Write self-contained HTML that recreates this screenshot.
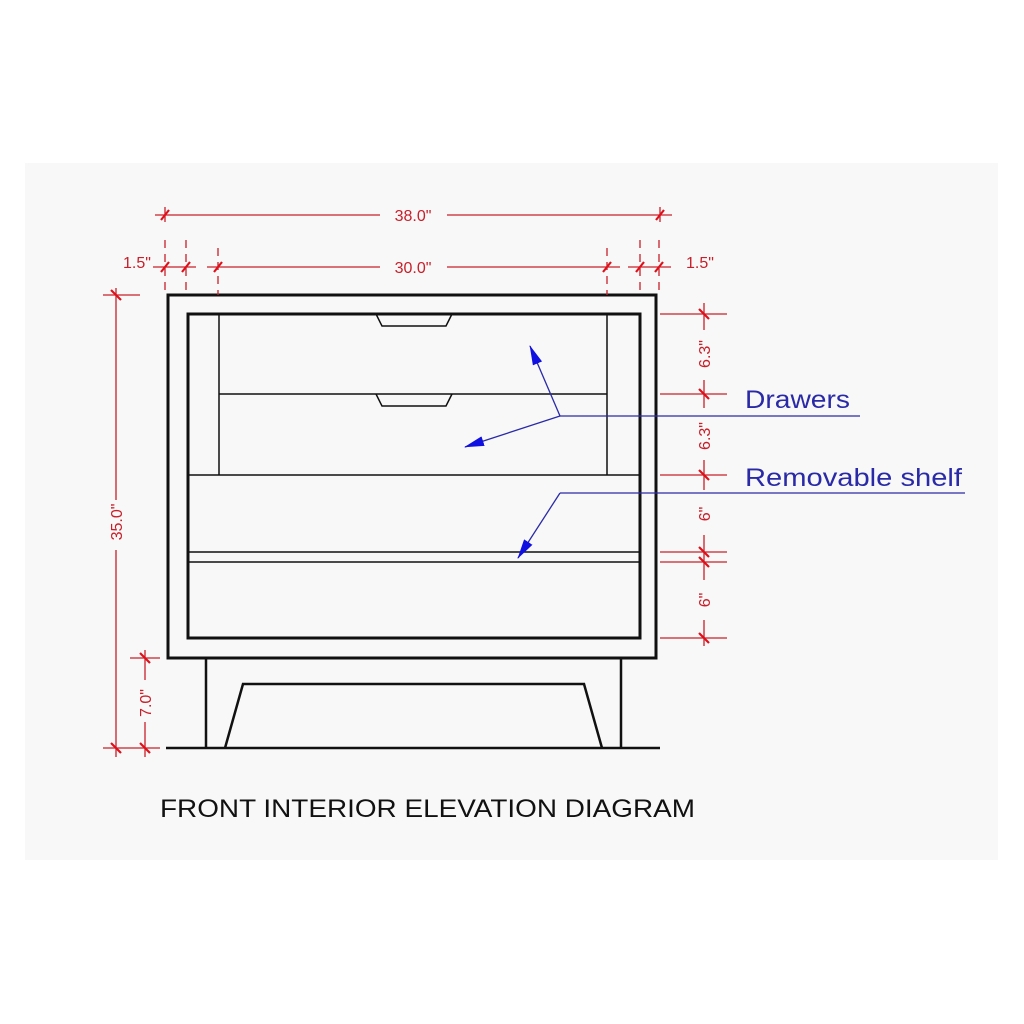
<!DOCTYPE html>
<html><head><style>
html,body{margin:0;padding:0;background:#fff;}
svg{display:block;}
</style></head><body>
<svg width="1024" height="1024" viewBox="0 0 1024 1024" xmlns="http://www.w3.org/2000/svg" font-family="Liberation Sans, sans-serif">
<rect x="0" y="0" width="1024" height="1024" fill="#fff"/>
<rect x="25" y="163" width="973" height="697" fill="#f8f8f8"/>
<defs>
<marker id="ah" markerWidth="20" markerHeight="10" refX="19" refY="5" orient="auto" markerUnits="userSpaceOnUse"><path d="M0,0 L20,5 L0,10 z" fill="#1010e0"/></marker>
</defs>
<g stroke="#111" fill="none">
<rect x="168" y="295" width="488" height="363" stroke-width="3"/>
<rect x="188" y="314" width="452" height="324" stroke-width="3"/>
<line x1="219" y1="314" x2="219" y2="475" stroke-width="1.5"/>
<line x1="607" y1="314" x2="607" y2="475" stroke-width="1.5"/>
<line x1="219" y1="394" x2="607" y2="394" stroke-width="1.5"/>
<line x1="188" y1="475" x2="640" y2="475" stroke-width="1.5"/>
<line x1="188" y1="552" x2="640" y2="552" stroke-width="1.5"/>
<line x1="188" y1="562" x2="640" y2="562" stroke-width="1.5"/>
<path d="M376,314 L382,326 L446,326 L452,314" stroke-width="1.5"/>
<path d="M376,394 L382,406 L446,406 L452,394" stroke-width="1.5"/>
<line x1="206" y1="658" x2="206" y2="748" stroke-width="2.5"/>
<line x1="621" y1="658" x2="621" y2="748" stroke-width="2.5"/>
<path d="M225,748 L243,684 L584,684 L602,748" stroke-width="2.5"/>
<line x1="166" y1="748" x2="660" y2="748" stroke-width="2.5"/>
</g>
<g stroke="#c8202a" stroke-width="1.3" fill="none">
<line x1="155" y1="215" x2="380" y2="215"/><line x1="447" y1="215" x2="672" y2="215"/>
<line x1="165" y1="207" x2="165" y2="222"/><line x1="660" y1="207" x2="660" y2="222"/>
<line x1="153" y1="267" x2="196" y2="267"/><line x1="207" y1="267" x2="380" y2="267"/><line x1="447" y1="267" x2="620" y2="267"/><line x1="628" y1="267" x2="671" y2="267"/>
<line x1="165" y1="240" x2="165" y2="295" stroke-dasharray="8,6"/><line x1="186" y1="240" x2="186" y2="295" stroke-dasharray="8,6"/><line x1="218" y1="248" x2="218" y2="295" stroke-dasharray="8,6"/>
<line x1="607" y1="248" x2="607" y2="295" stroke-dasharray="8,6"/><line x1="640" y1="240" x2="640" y2="295" stroke-dasharray="8,6"/><line x1="659" y1="240" x2="659" y2="295" stroke-dasharray="8,6"/>
<line x1="116" y1="288" x2="116" y2="500"/><line x1="116" y1="550" x2="116" y2="757"/>
<line x1="103" y1="295" x2="140" y2="295"/><line x1="103" y1="748" x2="160" y2="748"/>
<line x1="145" y1="650" x2="145" y2="680"/><line x1="145" y1="722" x2="145" y2="757"/>
<line x1="130" y1="658" x2="160" y2="658"/>
<line x1="704" y1="303" x2="704" y2="330"/><line x1="704" y1="380" x2="704" y2="408"/><line x1="704" y1="460" x2="704" y2="490"/><line x1="704" y1="535" x2="704" y2="580"/><line x1="704" y1="620" x2="704" y2="646"/>
<line x1="660" y1="314" x2="727" y2="314"/><line x1="660" y1="394" x2="727" y2="394"/><line x1="660" y1="475" x2="727" y2="475"/><line x1="660" y1="552" x2="727" y2="552"/><line x1="660" y1="562" x2="727" y2="562"/><line x1="660" y1="638" x2="727" y2="638"/>
</g>
<g stroke="#e0101a" stroke-width="2.2">
<line x1="161" y1="220" x2="169" y2="210"/><line x1="656" y1="220" x2="664" y2="210"/>
<line x1="161" y1="272" x2="169" y2="262"/><line x1="182" y1="272" x2="190" y2="262"/><line x1="214" y1="272" x2="222" y2="262"/><line x1="603" y1="272" x2="611" y2="262"/><line x1="636" y1="272" x2="644" y2="262"/><line x1="655" y1="272" x2="663" y2="262"/>
<line x1="111" y1="290" x2="121" y2="300"/><line x1="111" y1="743" x2="121" y2="753"/>
<line x1="140" y1="653" x2="150" y2="663"/><line x1="140" y1="743" x2="150" y2="753"/>
<line x1="699" y1="309" x2="709" y2="319"/><line x1="699" y1="389" x2="709" y2="399"/><line x1="699" y1="470" x2="709" y2="480"/><line x1="699" y1="547" x2="709" y2="557"/><line x1="699" y1="557" x2="709" y2="567"/><line x1="699" y1="633" x2="709" y2="643"/>
</g>
<g fill="#c8202a" font-size="16">
<text x="413" y="221" text-anchor="middle">38.0"</text>
<text x="413" y="273" text-anchor="middle">30.0"</text>
<text x="137" y="268" text-anchor="middle">1.5"</text>
<text x="700" y="268" text-anchor="middle">1.5"</text>
<text transform="translate(122,522) rotate(-90)" text-anchor="middle">35.0"</text>
<text transform="translate(151,703) rotate(-90)" text-anchor="middle">7.0"</text>
<text transform="translate(710,354) rotate(-90)" text-anchor="middle">6.3"</text>
<text transform="translate(710,436) rotate(-90)" text-anchor="middle">6.3"</text>
<text transform="translate(710,514) rotate(-90)" text-anchor="middle">6"</text>
<text transform="translate(710,600) rotate(-90)" text-anchor="middle">6"</text>
</g>
<g stroke="#2a2aa8" stroke-width="1.3" fill="none">
<line x1="560" y1="416" x2="860" y2="416"/>
<line x1="560" y1="493" x2="965" y2="493"/>
<line x1="560" y1="416" x2="530" y2="346" marker-end="url(#ah)"/>
<line x1="560" y1="416" x2="465" y2="447" marker-end="url(#ah)"/>
<line x1="560" y1="493" x2="518" y2="558" marker-end="url(#ah)"/>
</g>
<g fill="#2a2aa8" font-size="25">
<text x="745" y="408" textLength="105" lengthAdjust="spacingAndGlyphs">Drawers</text>
<text x="745" y="486" textLength="217" lengthAdjust="spacingAndGlyphs">Removable shelf</text>
</g>
<text x="160" y="817" font-size="25" fill="#111" textLength="535" lengthAdjust="spacingAndGlyphs">FRONT INTERIOR ELEVATION DIAGRAM</text>
</svg>
</body></html>
